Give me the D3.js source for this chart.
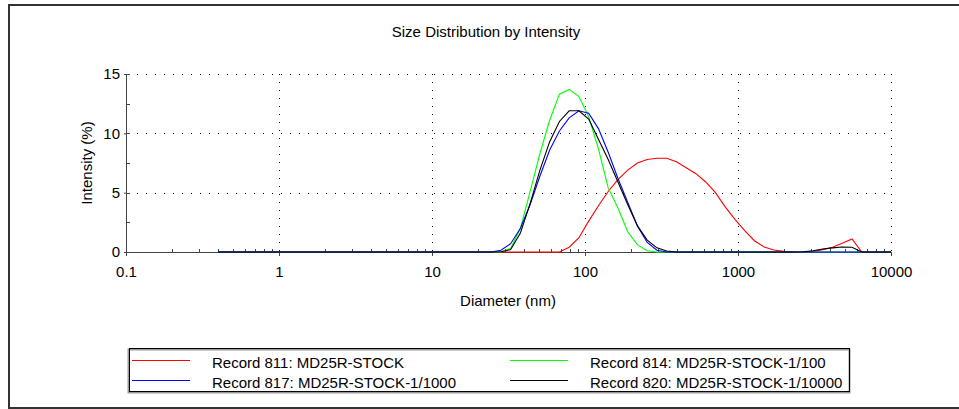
<!DOCTYPE html>
<html>
<head>
<meta charset="utf-8">
<script src="https://cdn.jsdelivr.net/npm/d3@7"></script>
<style>
  html, body { margin: 0; padding: 0; background: #fff; }
  svg { display: block; }
  text { font-family: "Liberation Sans", Arial, sans-serif; fill: #000; }
</style>
</head>
<body>
<svg id="chart" width="959" height="409"></svg>
<script>
// ---- data ----
const title = "Size Distribution by Intensity";
const xLabel = "Diameter (nm)";
const yLabel = "Intensity (%)";

const diameters = [0.4, 0.4632, 0.5365, 0.6213, 0.7195, 0.8332, 0.9649, 1.117, 1.294, 1.499,
  1.736, 2.010, 2.328, 2.696, 3.122, 3.615, 4.187, 4.849, 5.615, 6.503,
  7.531, 8.721, 10.10, 11.70, 13.54, 15.69, 18.17, 21.04, 24.36, 28.21,
  32.67, 37.84, 43.82, 50.75, 58.77, 68.06, 78.82, 91.28, 105.7, 122.4,
  141.8, 164.2, 190.1, 220.2, 255.0, 295.3, 342.0, 396.1, 458.7, 531.2,
  615.1, 712.4, 825.0, 955.4, 1106, 1281, 1484, 1718, 1990, 2305,
  2669, 3091, 3580, 4145, 4801, 5560, 6439, 7456, 8635, 10000];

const record811 = [0,0,0,0,0,0,0,0,0,0, 0,0,0,0,0,0,0,0,0,0, 0,0,0,0,0,0,0,0,0,0,
  0,0,0,0,0,0,0.4,1.2,2.6,3.9, 5.1,6.1,6.9,7.5,7.8,7.9,7.9,7.6,7.1,6.6,
  5.9,5.0,3.8,2.75,1.8,0.95,0.42,0.17,0.05,0, 0,0.05,0.2,0.4,0.73,1.1,0,0,0,0];
const record814 = [0,0,0,0,0,0,0,0,0,0, 0,0,0,0,0,0,0,0,0,0, 0,0,0,0,0,0,0,0,0,0,
  0.3,2.0,5.1,8.3,11.1,13.3,13.7,13.1,11.4,8.7, 5.4,3.7,1.7,0.6,0.1,0,0,0,0,0,
  0,0,0,0,0,0,0,0,0,0, 0,0,0,0,0,0,0,0,0,0];
const record817 = [0,0,0,0,0,0,0,0,0,0, 0,0,0,0,0,0,0,0,0,0, 0,0,0,0,0,0,0,0,0,0.15,
  0.7,2.0,4.0,6.4,8.6,10.2,11.3,11.9,11.7,10.4, 8.4,6.2,4.2,2.2,0.8,0.15,0,0,0,0,
  0,0,0,0,0,0,0,0,0,0, 0,0,0,0,0,0,0,0,0,0];
const record820 = [0,0,0,0,0,0,0,0,0,0, 0,0,0,0,0,0,0,0,0,0, 0,0,0,0,0,0,0,0,0,0.02,
  0.2,1.6,4.1,6.9,9.3,11.0,11.9,11.9,11.2,9.5, 7.8,5.9,4.0,2.2,1.0,0.35,0.08,0,0,0,
  0,0,0,0,0,0,0,0,0,0, 0.02,0.1,0.25,0.35,0.42,0.4,0,0,0,0];

const seriesNames = ["Record 811: MD25R-STOCK", "Record 814: MD25R-STOCK-1/100",
  "Record 817: MD25R-STOCK-1/1000", "Record 820: MD25R-STOCK-1/10000"];
const seriesColors = ["#ff0000", "#00ff00", "#0000ff", "#000000"];
const seriesValues = [record811, record814, record817, record820];

const xTickValues = [0.1, 1, 10, 100, 1000, 10000];
const xTickLabels = ["0.1", "1", "10", "100", "1000", "10000"];
const yTickValues = [0, 5, 10, 15];

// ---- drawing ----
const FS = "15px";
const svg = d3.select("#chart");
const x = d3.scaleLog().domain([0.1, 10000]).range([126, 891]);
const y = d3.scaleLinear().domain([0, 15]).range([252, 74]);

// outer frame
svg.append("rect").attr("x", 9).attr("y", 5).attr("width", 1000).attr("height", 403)
  .attr("fill", "none").attr("stroke", "#333").attr("stroke-width", 2);

// title
svg.append("text").attr("x", 486).attr("y", 37).attr("text-anchor", "middle")
  .style("font-size", FS).text(title);

// grid (dotted)
const grid = svg.append("g");
[5, 10, 15].forEach(v => {
  grid.append("line").attr("x1", x(0.1) + 2).attr("x2", x(10000))
    .attr("y1", Math.round(y(v)) + 0.5).attr("y2", Math.round(y(v)) + 0.5)
    .attr("stroke", "#000").attr("stroke-width", 1).attr("stroke-dasharray", "1,8");
});
[1, 10, 100, 1000, 10000].forEach(v => {
  grid.append("line").attr("x1", Math.round(x(v)) + 0.5).attr("x2", Math.round(x(v)) + 0.5)
    .attr("y1", y(15)).attr("y2", y(0))
    .attr("stroke", "#000").attr("stroke-width", 1).attr("stroke-dasharray", "1,7");
});

// axes
const axisColor = "#444";
const xAxis = d3.axisBottom(x).tickValues(xTickValues)
  .tickFormat((d, i) => xTickLabels[i]).tickSize(4).tickPadding(10);
const gx = svg.append("g").attr("transform", `translate(0,${y(0)})`).call(xAxis);
gx.select(".domain").attr("stroke", axisColor);
gx.selectAll(".tick line").attr("stroke", axisColor);
gx.selectAll(".tick text").style("font-size", FS).attr("fill", "#000")
  .style("font-family", "Liberation Sans, Arial, sans-serif");
// minor x ticks (inside)
const minor = [];
for (let dec = 0.1; dec < 10000; dec *= 10) {
  for (let k = 2; k <= 9; k++) minor.push(dec * k);
}
svg.append("g").selectAll("line").data(minor).join("line")
  .attr("x1", d => Math.round(x(d)) + 0.5).attr("x2", d => Math.round(x(d)) + 0.5)
  .attr("y1", y(0) - 3).attr("y2", y(0) + 1).attr("stroke", axisColor);

const yAxis = d3.axisLeft(y).tickValues(yTickValues).tickSize(2).tickPadding(4);
const gy = svg.append("g").attr("transform", `translate(${x(0.1)},0)`).call(yAxis);
gy.select(".domain").attr("stroke", axisColor);
gy.selectAll(".tick line").attr("stroke", axisColor);
gy.selectAll(".tick text").style("font-size", FS).attr("fill", "#000")
  .style("font-family", "Liberation Sans, Arial, sans-serif");
// inward y ticks (major + minor)
svg.append("g").selectAll("line").data([0, 2.5, 5, 7.5, 10, 12.5, 15]).join("line")
  .attr("x1", x(0.1)).attr("x2", x(0.1) + 4)
  .attr("y1", d => Math.round(y(d)) + 0.5).attr("y2", d => Math.round(y(d)) + 0.5)
  .attr("stroke", axisColor);

// axis labels
svg.append("text").attr("x", 508).attr("y", 306).attr("text-anchor", "middle")
  .style("font-size", FS).text(xLabel);
svg.append("text").attr("transform", "translate(92,163) rotate(-90)")
  .attr("text-anchor", "middle").style("font-size", FS).text(yLabel);

// series
const line = d3.line().x(d => x(d[0])).y(d => y(d[1]));
seriesValues.forEach((vals, i) => {
  svg.append("path").datum(diameters.map((d, j) => [d, vals[j]]))
    .attr("d", line).attr("fill", "none")
    .attr("stroke", seriesColors[i]).attr("stroke-width", 1.1);
});

// legend
const lg = svg.append("g");
lg.append("rect").attr("x", 128.5).attr("y", 349.5).attr("width", 721).attr("height", 43)
  .attr("fill", "#fff").attr("stroke", "#999").attr("stroke-width", 2);
lg.append("rect").attr("x", 129.5).attr("y", 348.5).attr("width", 720).attr("height", 43)
  .attr("fill", "none").attr("stroke", "#000").attr("stroke-width", 1);
const legendPos = [[132, 360], [510, 360], [132, 380], [510, 380]];
seriesNames.forEach((name, i) => {
  const [lx, ly] = legendPos[i];
  lg.append("line").attr("x1", lx).attr("x2", lx + 58).attr("y1", ly + 0.5).attr("y2", ly + 0.5)
    .attr("stroke", seriesColors[i]).attr("stroke-width", 1);
  lg.append("text").attr("x", lx + 80).attr("y", ly + 8)
    .style("font-size", FS).text(name);
});
</script>
</body>
</html>
